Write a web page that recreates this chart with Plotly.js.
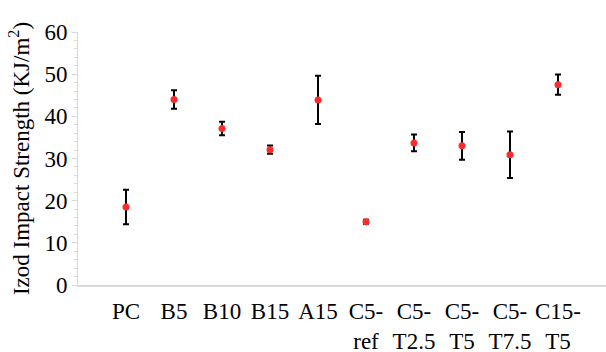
<!DOCTYPE html>
<html>
<head>
<meta charset="utf-8">
<script src="https://cdn.plot.ly/plotly-3.0.1.min.js"></script>
<style>html,body{margin:0;padding:0;background:#fff;}#chart{width:606px;height:352px;}</style>
</head>
<body>
<div id="chart"></div>
<script>
const categories = ["PC", "B5", "B10", "B15", "A15", "C5-<br>ref", "C5-<br>T2.5", "C5-<br>T5", "C5-<br>T7.5", "C15-<br>T5"];
const impactStrength = [18.5, 44.0, 37.1, 32.1, 43.9, 15.0, 33.7, 33.0, 30.9, 47.5];
const errorValues = [4.1, 2.2, 1.6, 1.0, 5.7, 0.5, 2.0, 3.3, 5.5, 2.4];
const yTickValues = [0, 10, 20, 30, 40, 50, 60];

const trace = {
  type: 'scatter',
  mode: 'markers',
  x: categories,
  y: impactStrength,
  marker: {color: '#ff2b2b', size: 7},
  error_y: {type: 'data', array: errorValues, visible: true, color: '#000000', thickness: 2, width: 3},
  showlegend: false,
  hoverinfo: 'none'
};

const layout = {
  width: 606,
  height: 352,
  margin: {l: 78, r: 0, t: 32, b: 67},
  paper_bgcolor: '#ffffff',
  plot_bgcolor: '#ffffff',
  font: {family: 'Liberation Serif, Times New Roman, serif', size: 23, color: '#000000'},
  xaxis: {
    type: 'category',
    range: [-1, 10],
    showgrid: false,
    zeroline: false,
    showline: true,
    linecolor: '#d9d9d9',
    linewidth: 2,
    ticks: '',
    tickfont: {size: 23},
    ticklabelstandoff: 4,
    automargin: false
  },
  yaxis: {
    range: [0, 60],
    tickvals: yTickValues,
    showgrid: false,
    zeroline: false,
    showline: true,
    linecolor: '#d9d9d9',
    linewidth: 1,
    ticks: 'outside',
    ticklen: 5,
    tickcolor: '#d9d9d9',
    minor: {dtick: 2, ticks: 'outside', ticklen: 3, tickcolor: '#d9d9d9', showgrid: false},
    tickfont: {size: 23},
    title: {text: 'Izod Impact Strength (KJ/m<sup>2</sup>)', font: {size: 23}, standoff: 8},
    automargin: false
  }
};

Plotly.newPlot('chart', [trace], layout, {staticPlot: true, displayModeBar: false});
</script>
</body>
</html>
